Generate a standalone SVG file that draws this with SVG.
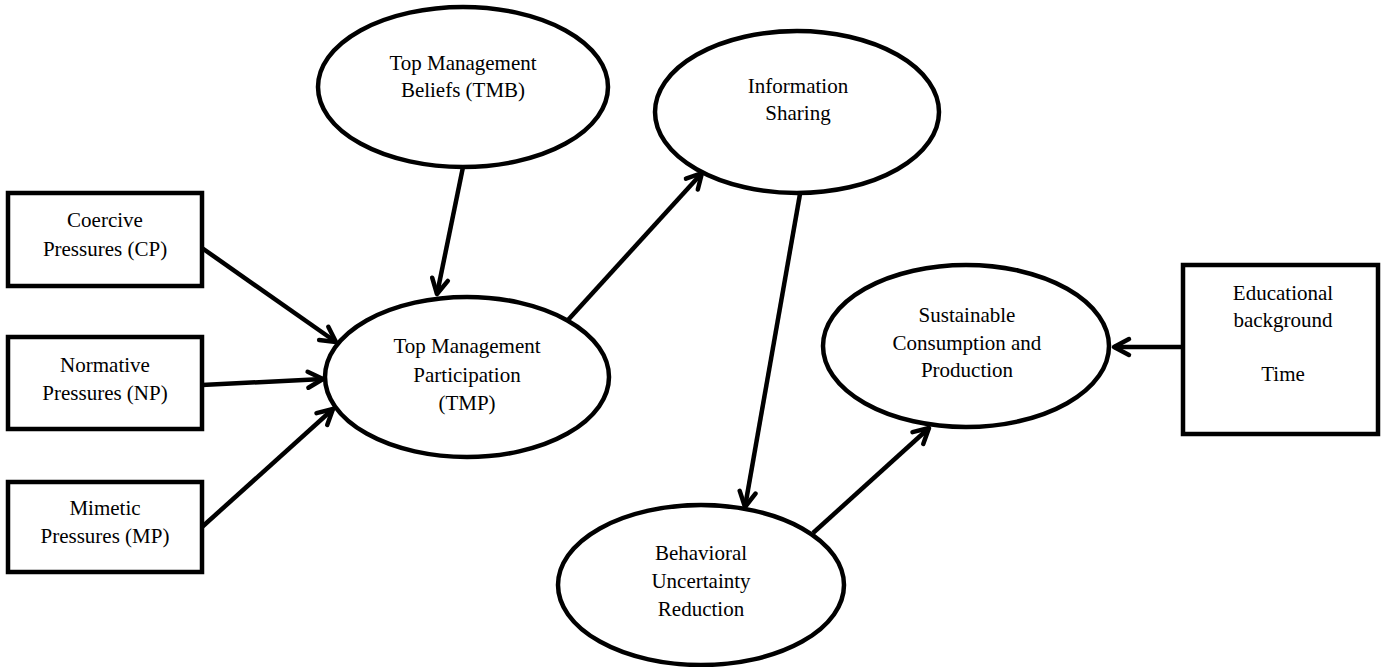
<svg xmlns="http://www.w3.org/2000/svg" width="1383" height="667" viewBox="0 0 1383 667">
<style>
.box{fill:#fff;stroke:#000;stroke-width:4.5}
.ell{fill:#fff;stroke:#000;stroke-width:4.5}
.lbl{font-size:21px;fill:#000;text-anchor:middle}
.con{stroke:#000;stroke-width:4.5;fill:none;marker-end:url(#arr)}
</style>
<defs>
<marker id="arr" markerUnits="userSpaceOnUse" viewBox="-22 -12 26 24" markerWidth="26" markerHeight="24" refX="0" refY="0" orient="auto">
<path d="M-15,-8 L0,0 L-15,8" fill="none" stroke="#000" stroke-width="4.5" stroke-linecap="round" stroke-linejoin="round"/>
</marker>
</defs>
<rect width="1383" height="667" fill="#fff"/>
<g id="connectors">
<line class="con" x1="202" y1="248" x2="336" y2="342"/>
<line class="con" x1="202" y1="385" x2="323" y2="379"/>
<line class="con" x1="202" y1="527" x2="333" y2="409"/>
<line class="con" x1="463" y1="167" x2="437" y2="294"/>
<line class="con" x1="568" y1="320" x2="702" y2="173"/>
<line class="con" x1="800" y1="194" x2="745" y2="507"/>
<line class="con" x1="813" y1="533" x2="929" y2="428"/>
<line class="con" x1="1183" y1="347" x2="1114" y2="347"/>
</g>
<g font-family="Liberation Serif, Tinos, Times New Roman, DejaVu Serif, serif">
<g id="cp">
<rect class="box" x="8" y="193" width="194" height="93"/>
<text class="lbl" x="105" y="227">Coercive</text>
<text class="lbl" x="105" y="256">Pressures (CP)</text>
</g>
<g id="np">
<rect class="box" x="8" y="337" width="194" height="92"/>
<text class="lbl" x="105" y="372">Normative</text>
<text class="lbl" x="105" y="400">Pressures (NP)</text>
</g>
<g id="mp">
<rect class="box" x="8" y="482" width="194" height="90"/>
<text class="lbl" x="105" y="515">Mimetic</text>
<text class="lbl" x="105" y="543">Pressures (MP)</text>
</g>
<g id="tmb">
<ellipse class="ell" cx="463" cy="87" rx="145" ry="80"/>
<text class="lbl" x="463" y="70">Top Management</text>
<text class="lbl" x="463" y="97">Beliefs (TMB)</text>
</g>
<g id="tmp">
<ellipse class="ell" cx="467" cy="377" rx="142" ry="80"/>
<text class="lbl" x="467" y="353">Top Management</text>
<text class="lbl" x="467" y="382">Participation</text>
<text class="lbl" x="467" y="410">(TMP)</text>
</g>
<g id="is">
<ellipse class="ell" cx="797" cy="112" rx="142" ry="81"/>
<text class="lbl" x="798" y="93">Information</text>
<text class="lbl" x="798" y="120">Sharing</text>
</g>
<g id="bur">
<ellipse class="ell" cx="701" cy="585" rx="143" ry="80"/>
<text class="lbl" x="701" y="560">Behavioral</text>
<text class="lbl" x="701" y="588">Uncertainty</text>
<text class="lbl" x="701" y="616">Reduction</text>
</g>
<g id="scp">
<ellipse class="ell" cx="966" cy="346" rx="143" ry="81"/>
<text class="lbl" x="967" y="322">Sustainable</text>
<text class="lbl" x="967" y="350">Consumption and</text>
<text class="lbl" x="967" y="377">Production</text>
</g>
<g id="edu">
<rect class="box" x="1183" y="265" width="195" height="169"/>
<text class="lbl" x="1283" y="300">Educational</text>
<text class="lbl" x="1283" y="327">background</text>
<text class="lbl" x="1283" y="381">Time</text>
</g>
</g>
</svg>
